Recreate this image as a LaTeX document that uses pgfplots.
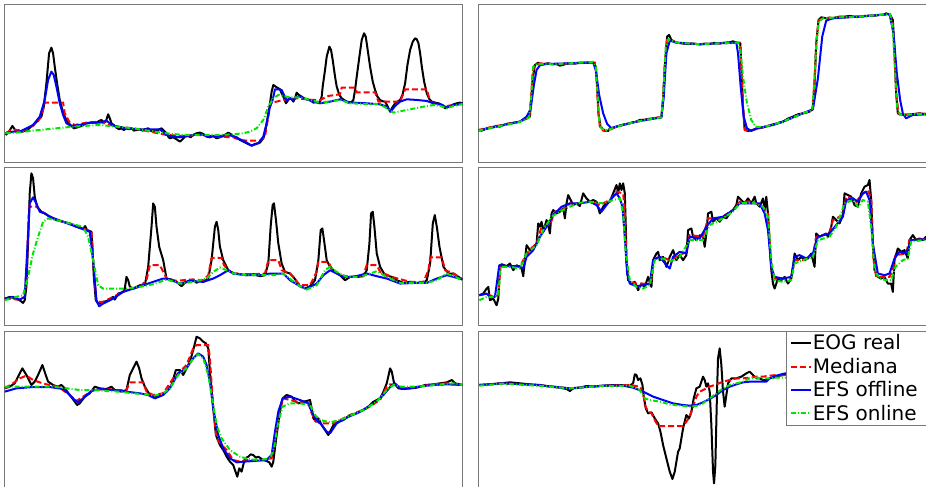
\documentclass[border=0pt]{standalone}
\usepackage{pgfplots}
\pgfplotsset{compat=1.18}
\usepackage{fontspec}
\setmainfont{DejaVu Sans}

\definecolor{framegray}{rgb}{0.47,0.47,0.47}
\definecolor{ongreen}{rgb}{0,0.9,0}

\pgfplotsset{
  eogpanel/.style={
    width=228.9pt, height=79pt, scale only axis,
    axis line style={framegray, line width=0.5pt},
    xtick=\empty, ytick=\empty,
    y dir=reverse,
    clip=true,
  },
  eog/.style={black, line width=1pt, line join=round},
  med/.style={red, line width=1pt, dash pattern=on 3pt off 1.5pt},
  off/.style={blue, line width=1pt, line join=round},
  onl/.style={ongreen, line width=1pt, dash pattern=on 2.5pt off 1pt on 0.5pt off 1pt},
}

\begin{document}
\begin{tikzpicture}

% ---------------- panel 1 ----------------
\begin{axis}[eogpanel, at={(2.35pt,241.35pt)}, anchor=north west,
  xmin=15, xmax=1387, ymin=13, ymax=487]
\addplot[eog] coordinates {(18,405)(28,395)(38,378)(45,388)(50,395)(70,395)(85,388)(100,375)(115,362)(125,350)(132,320)(140,250)(148,160)(155,143)(160,160)(165,200)(172,250)(180,300)(188,330)(195,350)(205,368)(215,378)(222,385)(230,383)(245,378)(260,370)(275,368)(290,368)(300,362)(305,360)(312,368)(318,365)(325,343)(330,355)(335,370)(345,378)(350,383)(358,388)(365,385)(372,390)(380,385)(388,388)(395,385)(402,392)(410,390)(420,388)(428,392)(435,388)(445,385)(452,392)(460,395)(470,392)(478,388)(485,385)(492,392)(500,400)(505,410)(510,415)(520,412)(530,418)(540,425)(548,418)(555,410)(565,408)(572,412)(580,405)(590,400)(600,398)(610,402)(620,410)(630,412)(640,408)(650,415)(660,412)(670,408)(685,398)(692,402)(700,410)(710,412)(720,420)(730,425)(740,430)(755,437)(765,432)(780,428)(790,415)(795,400)(800,370)(805,340)(810,310)(815,275)(820,255)(830,262)(840,268)(845,280)(850,290)(858,310)(865,300)(870,295)(875,298)(880,305)(885,295)(890,278)(897,285)(905,290)(912,295)(920,298)(930,300)(940,308)(950,306)(960,305)(965,290)(968,260)(975,210)(980,170)(988,140)(993,150)(998,180)(1005,230)(1010,260)(1018,285)(1025,295)(1035,302)(1045,308)(1055,306)(1060,300)(1065,270)(1070,230)(1078,170)(1085,120)(1092,100)(1097,110)(1100,130)(1105,165)(1110,200)(1118,245)(1125,270)(1132,290)(1140,300)(1148,304)(1155,305)(1162,318)(1170,335)(1177,322)(1185,310)(1192,305)(1200,300)(1207,285)(1215,250)(1222,195)(1230,150)(1238,125)(1245,115)(1250,118)(1255,130)(1260,160)(1265,200)(1272,245)(1280,280)(1288,298)(1295,305)(1305,308)(1315,310)(1325,315)(1335,325)(1342,320)(1350,318)(1360,313)(1370,310)(1380,308)(1387,310)};
\addplot[med] coordinates {(18,400)(30,392)(50,390)(70,392)(100,378)(120,355)(130,330)(135,308)(190,308)(195,340)(210,368)(225,375)(260,368)(300,365)(330,375)(350,380)(400,385)(450,395)(500,405)(550,408)(600,405)(650,410)(700,412)(720,420)(740,422)(780,422)(795,410)(800,380)(810,320)(815,308)(830,305)(850,300)(870,298)(890,295)(920,298)(940,300)(960,300)(985,288)(1020,283)(1025,263)(1065,263)(1070,277)(1125,277)(1135,305)(1200,305)(1215,268)(1280,268)(1290,305)(1310,312)(1340,318)(1387,312)};
\addplot[off] coordinates {(18,400)(40,395)(60,395)(80,385)(100,375)(120,350)(135,300)(145,240)(155,215)(162,225)(170,260)(180,310)(190,345)(200,370)(215,378)(240,375)(270,368)(300,368)(320,362)(330,370)(345,378)(380,385)(420,388)(450,388)(480,388)(500,405)(520,410)(540,412)(560,408)(580,405)(600,402)(620,408)(650,410)(680,405)(700,408)(720,418)(740,428)(755,437)(775,430)(790,410)(800,370)(810,320)(818,300)(825,268)(835,268)(845,270)(852,285)(860,302)(870,295)(880,300)(890,290)(900,290)(920,298)(940,305)(960,310)(990,305)(1020,298)(1040,305)(1060,308)(1100,310)(1140,313)(1160,320)(1172,335)(1185,318)(1200,305)(1220,298)(1250,300)(1280,303)(1300,310)(1320,312)(1340,323)(1360,315)(1387,310)};
\addplot[onl] coordinates {(18,400)(60,397)(100,392)(150,387)(200,382)(250,378)(300,375)(350,380)(400,385)(450,393)(500,400)(550,405)(600,405)(650,405)(700,403)(730,400)(750,395)(770,385)(790,360)(805,320)(820,295)(835,285)(850,288)(870,292)(900,292)(930,300)(960,308)(1000,303)(1020,300)(1050,310)(1100,312)(1140,313)(1160,325)(1180,338)(1220,330)(1260,322)(1300,315)(1320,318)(1340,325)(1360,318)(1387,312)};
\end{axis}

% ---------------- panel 2 ----------------
\begin{axis}[eogpanel, at={(239.15pt,241.35pt)}, anchor=north west,
  xmin=25, xmax=1400, ymin=13, ymax=487]
\addplot[eog] coordinates {(25,390)(35,392)(50,385)(65,382)(80,378)(90,380)(100,375)(110,372)(120,370)(135,368)(150,365)(160,360)(170,355)(180,350)(183,310)(188,240)(195,195)(205,188)(212,192)(220,192)(235,190)(250,193)(260,192)(270,197)(285,193)(300,190)(315,191)(330,188)(345,189)(355,187)(370,186)(378,200)(382,260)(386,340)(392,380)(405,393)(415,393)(420,385)(430,383)(440,380)(455,375)(470,372)(485,368)(500,365)(510,360)(520,360)(535,357)(550,355)(565,354)(575,352)(580,300)(585,200)(592,110)(598,105)(605,120)(620,128)(635,130)(650,132)(670,131)(690,133)(705,131)(720,132)(735,129)(750,130)(765,128)(780,127)(790,124)(800,128)(812,130)(815,200)(820,320)(825,390)(835,393)(850,390)(865,385)(880,382)(895,378)(910,375)(925,370)(940,365)(955,356)(970,350)(985,343)(1000,340)(1010,338)(1020,335)(1030,325)(1035,250)(1040,130)(1047,60)(1055,52)(1070,55)(1080,53)(1090,55)(1100,52)(1110,50)(1125,50)(1140,48)(1155,50)(1170,50)(1185,48)(1200,47)(1215,47)(1230,45)(1240,45)(1250,40)(1262,45)(1270,60)(1275,150)(1280,280)(1285,340)(1295,345)(1310,344)(1320,343)(1335,342)(1350,340)(1365,342)(1380,343)(1400,342)};
\addplot[med] coordinates {(25,390)(80,378)(120,370)(150,365)(178,352)(183,300)(188,220)(193,195)(210,190)(250,193)(300,190)(355,187)(375,188)(380,230)(385,330)(390,380)(400,392)(415,392)(440,380)(500,365)(550,355)(575,350)(580,290)(586,180)(592,120)(600,118)(620,128)(690,133)(750,130)(810,128)(815,200)(820,320)(826,390)(840,392)(880,382)(940,365)(1000,340)(1028,330)(1035,240)(1040,130)(1047,62)(1060,55)(1110,52)(1170,50)(1230,45)(1262,45)(1270,70)(1275,160)(1280,280)(1287,340)(1300,345)(1350,341)(1400,342)};
\addplot[off] coordinates {(25,392)(80,380)(150,365)(170,350)(182,328)(192,255)(200,210)(210,196)(230,192)(300,190)(370,188)(378,210)(388,285)(400,340)(412,372)(425,385)(440,380)(500,365)(575,352)(582,290)(590,160)(600,122)(620,128)(690,133)(750,130)(800,128)(805,160)(813,260)(822,350)(832,385)(845,393)(860,385)(880,382)(940,365)(1000,340)(1030,328)(1045,235)(1058,110)(1070,62)(1090,55)(1170,50)(1230,45)(1260,42)(1272,100)(1282,220)(1292,300)(1300,340)(1310,355)(1330,345)(1400,342)};
\addplot[onl] coordinates {(25,392)(80,380)(150,366)(178,352)(184,290)(190,200)(200,192)(250,193)(300,190)(370,186)(378,200)(383,280)(388,360)(395,385)(410,392)(440,380)(500,365)(575,352)(580,290)(588,140)(596,118)(620,128)(690,133)(750,130)(805,128)(812,150)(820,230)(832,310)(845,360)(858,380)(880,382)(940,365)(1000,340)(1028,330)(1034,250)(1040,140)(1047,65)(1060,55)(1110,52)(1170,50)(1230,45)(1262,42)(1270,90)(1276,200)(1283,320)(1292,345)(1320,343)(1400,342)};
\end{axis}

% ---------------- panel 3 ----------------
\begin{axis}[eogpanel, at={(2.35pt,159.85pt)}, anchor=north west,
  xmin=15, xmax=1387, ymin=22, ymax=495]
\addplot[eog] coordinates {(15,415)(30,410)(45,415)(60,420)(70,428)(75,420)(80,380)(85,250)(90,100)(95,40)(100,55)(105,110)(112,140)(125,155)(135,160)(150,170)(170,180)(190,185)(210,190)(230,200)(250,205)(256,198)(262,210)(275,215)(278,260)(282,350)(288,420)(295,430)(310,425)(330,420)(340,410)(345,418)(355,400)(370,395)(375,385)(380,350)(385,360)(390,380)(400,385)(420,375)(435,375)(445,320)(455,200)(460,130)(465,140)(470,200)(478,260)(490,300)(500,355)(515,358)(530,365)(545,378)(555,368)(570,360)(580,358)(590,368)(600,360)(610,365)(625,355)(635,300)(645,200)(650,185)(655,210)(660,260)(670,300)(685,330)(700,340)(720,342)(740,345)(760,342)(780,348)(795,345)(805,310)(812,200)(818,135)(822,130)(828,180)(835,250)(845,310)(855,335)(870,340)(880,350)(900,378)(915,385)(930,378)(945,360)(955,300)(962,210)(967,205)(972,240)(980,300)(990,320)(1005,335)(1020,345)(1035,360)(1050,350)(1075,350)(1090,348)(1100,330)(1108,250)(1113,160)(1118,155)(1123,200)(1130,280)(1140,320)(1155,345)(1175,350)(1190,360)(1210,368)(1230,365)(1250,368)(1270,368)(1280,360)(1290,310)(1298,190)(1304,165)(1310,200)(1318,260)(1330,320)(1345,340)(1360,340)(1375,350)(1387,358)};
\addplot[med] coordinates {(15,415)(60,418)(75,410)(82,300)(88,140)(110,140)(120,150)(135,160)(170,180)(210,190)(250,205)(275,215)(282,330)(290,425)(310,425)(340,410)(380,390)(420,380)(440,360)(450,315)(480,315)(490,335)(500,355)(530,362)(570,358)(610,360)(625,345)(635,293)(665,293)(672,315)(690,335)(720,342)(760,342)(795,340)(805,300)(835,300)(845,330)(870,340)(900,375)(930,375)(950,335)(955,305)(985,305)(995,325)(1020,345)(1050,350)(1090,345)(1100,315)(1130,315)(1140,335)(1175,350)(1230,365)(1270,365)(1285,330)(1290,292)(1325,292)(1335,330)(1360,340)(1387,358)};
\addplot[off] coordinates {(15,415)(40,410)(60,418)(75,410)(82,280)(90,130)(100,112)(110,130)(120,155)(135,160)(150,170)(190,185)(230,200)(270,215)(280,300)(290,420)(298,438)(310,430)(340,415)(370,395)(400,385)(430,375)(460,365)(490,355)(510,358)(540,370)(570,362)(610,365)(640,355)(660,345)(685,330)(700,340)(740,345)(780,345)(810,340)(850,340)(870,360)(900,378)(920,385)(950,370)(970,345)(990,330)(1010,340)(1030,350)(1060,350)(1100,340)(1130,348)(1160,355)(1200,370)(1250,368)(1280,368)(1310,355)(1340,345)(1360,350)(1387,358)};
\addplot[onl] coordinates {(15,420)(50,410)(70,405)(85,350)(100,280)(115,230)(130,185)(145,175)(170,180)(210,190)(250,200)(265,230)(280,300)(295,375)(310,385)(350,385)(380,385)(420,380)(460,372)(500,358)(540,370)(580,365)(620,355)(640,335)(660,322)(680,330)(700,340)(740,345)(780,345)(820,345)(850,340)(875,360)(900,378)(920,388)(950,375)(975,330)(990,320)(1010,335)(1040,350)(1080,350)(1110,340)(1130,333)(1160,350)(1200,368)(1250,368)(1280,368)(1310,360)(1340,340)(1365,350)(1387,360)};
\end{axis}

% ---------------- panel 4 ----------------
\begin{axis}[eogpanel, at={(239.15pt,159.85pt)}, anchor=north west,
  xmin=25, xmax=1400, ymin=22, ymax=495]
\addplot[eog] coordinates {(28,405)(40,400)(50,385)(55,380)(60,420)(70,415)(80,435)(85,415)(90,320)(95,312)(110,318)(120,310)(130,330)(140,315)(155,325)(160,348)(165,300)(170,255)(180,270)(190,265)(200,250)(205,190)(210,200)(215,185)(220,215)(230,180)(235,195)(240,220)(245,160)(250,150)(260,160)(270,155)(280,145)(285,175)(290,130)(295,105)(300,115)(310,135)(320,130)(330,138)(340,100)(350,115)(360,125)(370,120)(380,125)(390,160)(400,140)(410,130)(420,125)(430,100)(440,75)(445,100)(450,70)(455,90)(460,70)(465,100)(468,200)(470,300)(475,360)(485,370)(495,365)(505,390)(515,370)(525,380)(535,350)(545,380)(550,300)(560,280)(565,275)(570,300)(580,290)(590,320)(600,290)(610,270)(620,300)(630,285)(640,300)(650,285)(655,210)(665,205)(670,230)(680,240)(690,225)(700,230)(705,260)(710,220)(715,160)(725,155)(730,185)(740,175)(750,185)(760,170)(770,175)(780,160)(790,150)(800,135)(805,110)(815,120)(825,130)(835,115)(845,130)(855,110)(860,130)(870,140)(880,115)(885,150)(890,110)(895,160)(900,250)(905,330)(910,370)(915,385)(925,355)(935,360)(945,350)(955,370)(965,355)(970,320)(975,280)(985,300)(995,290)(1005,300)(1015,295)(1025,280)(1035,320)(1040,220)(1050,230)(1060,225)(1070,220)(1075,230)(1085,200)(1090,170)(1100,180)(1110,190)(1120,165)(1125,100)(1135,105)(1145,110)(1155,135)(1165,140)(1175,100)(1185,80)(1195,75)(1200,60)(1205,120)(1210,250)(1215,330)(1225,350)(1235,355)(1245,350)(1255,370)(1265,370)(1270,395)(1275,300)(1285,265)(1295,275)(1305,270)(1315,295)(1320,240)(1330,225)(1340,240)(1350,235)(1360,240)(1370,230)(1400,230)};
\addplot[med] coordinates {(28,405)(50,400)(70,410)(85,405)(92,318)(120,318)(150,320)(165,290)(180,268)(200,250)(215,200)(240,195)(255,155)(280,148)(300,130)(330,130)(360,125)(390,135)(420,120)(440,95)(460,100)(465,150)(470,300)(478,365)(500,370)(530,370)(545,360)(552,295)(575,290)(600,300)(630,285)(650,275)(660,225)(700,230)(715,175)(750,175)(790,150)(810,125)(850,125)(880,140)(895,160)(905,320)(915,355)(950,355)(965,350)(975,300)(1000,300)(1030,285)(1040,230)(1080,220)(1090,180)(1120,165)(1130,110)(1150,115)(1160,125)(1175,105)(1195,90)(1205,115)(1212,300)(1220,350)(1260,350)(1270,330)(1278,285)(1310,280)(1320,240)(1350,238)(1400,232)};
\addplot[off] coordinates {(28,405)(50,400)(60,410)(75,410)(88,315)(120,318)(150,318)(160,325)(170,290)(190,270)(210,230)(230,200)(250,165)(275,140)(300,130)(330,130)(360,125)(380,135)(395,155)(410,135)(430,110)(440,100)(450,115)(458,140)(465,230)(472,340)(480,370)(500,378)(520,375)(540,370)(550,300)(570,290)(590,315)(600,325)(610,290)(630,275)(650,280)(660,230)(690,235)(710,200)(730,175)(760,170)(790,150)(810,130)(840,130)(870,130)(885,160)(895,210)(905,320)(915,350)(940,355)(965,350)(975,290)(990,285)(1010,295)(1030,280)(1045,230)(1080,220)(1100,195)(1120,170)(1130,120)(1150,115)(1165,125)(1180,100)(1190,95)(1200,120)(1210,250)(1225,340)(1245,345)(1260,340)(1275,295)(1290,275)(1310,280)(1325,240)(1360,238)(1400,235)};
\addplot[onl] coordinates {(28,420)(50,410)(70,410)(85,405)(92,320)(120,320)(150,325)(170,280)(200,255)(220,210)(245,170)(270,155)(300,140)(330,128)(360,125)(400,130)(430,120)(450,115)(460,160)(468,280)(480,360)(500,380)(520,385)(540,375)(555,300)(580,295)(600,305)(630,290)(660,240)(700,240)(720,195)(750,180)(790,155)(810,130)(850,128)(880,140)(895,170)(905,300)(915,360)(940,365)(965,360)(975,310)(1000,300)(1030,290)(1045,240)(1080,230)(1100,200)(1125,130)(1150,120)(1165,140)(1180,120)(1195,125)(1205,200)(1215,330)(1230,355)(1250,360)(1265,360)(1278,320)(1300,300)(1315,295)(1325,245)(1360,240)(1400,235)};
\end{axis}

% ---------------- panel 5 ----------------
\begin{axis}[eogpanel, at={(2.35pt,78pt)}, anchor=north west,
  xmin=15, xmax=1387, ymin=18, ymax=492]
\addplot[eog] coordinates {(15,190)(30,185)(45,175)(55,155)(68,130)(80,150)(95,180)(105,170)(115,150)(128,120)(138,150)(145,170)(160,180)(175,185)(185,180)(195,190)(210,210)(225,230)(232,240)(240,235)(255,215)(270,205)(285,185)(300,190)(320,192)(335,185)(345,195)(365,200)(380,195)(390,150)(400,130)(410,110)(418,130)(425,160)(435,185)(450,210)(465,215)(480,210)(500,200)(515,180)(528,135)(540,135)(550,150)(560,130)(570,110)(580,75)(590,35)(600,40)(610,50)(618,55)(625,70)(630,140)(640,250)(648,330)(660,360)(670,375)(680,395)(690,410)(700,420)(705,435)(712,455)(718,430)(725,440)(735,400)(745,395)(752,388)(760,390)(768,398)(775,395)(790,405)(800,408)(808,412)(815,425)(820,410)(830,330)(840,260)(848,220)(860,210)(875,215)(885,228)(895,235)(910,230)(920,228)(930,225)(935,250)(940,280)(948,290)(955,280)(965,300)(975,315)(985,330)(990,320)(1000,300)(1015,290)(1030,285)(1050,270)(1070,265)(1090,255)(1105,245)(1120,230)(1140,220)(1150,200)(1160,175)(1170,130)(1175,140)(1182,175)(1195,190)(1210,192)(1230,190)(1250,188)(1275,180)(1300,178)(1320,175)(1340,172)(1355,165)(1365,175)(1387,180)};
\addplot[med] coordinates {(15,190)(40,175)(60,160)(80,152)(100,165)(120,172)(140,178)(175,185)(210,210)(230,228)(250,215)(280,195)(320,192)(350,195)(380,195)(390,172)(430,172)(440,200)(460,210)(490,205)(520,160)(540,140)(560,120)(580,70)(590,60)(625,60)(630,100)(640,250)(650,340)(665,360)(680,375)(700,405)(720,410)(740,405)(790,405)(815,400)(825,340)(835,270)(850,220)(890,230)(925,232)(935,265)(945,285)(960,295)(1000,295)(1010,290)(1050,270)(1100,250)(1140,225)(1160,185)(1170,178)(1185,180)(1210,190)(1250,186)(1300,178)(1340,175)(1387,180)};
\addplot[off] coordinates {(15,200)(50,190)(100,186)(150,186)(190,192)(210,210)(225,225)(235,232)(250,220)(275,198)(300,192)(340,195)(380,200)(420,205)(445,210)(465,220)(490,210)(510,190)(535,145)(560,130)(580,100)(595,85)(610,95)(620,120)(630,170)(640,250)(655,330)(670,370)(690,400)(710,412)(730,410)(760,408)(800,405)(815,390)(825,320)(835,260)(848,220)(870,215)(900,225)(925,235)(935,260)(950,285)(965,300)(980,320)(990,325)(1000,310)(1010,295)(1040,278)(1080,260)(1120,235)(1150,210)(1175,180)(1185,175)(1200,190)(1230,190)(1270,183)(1300,180)(1340,178)(1387,180)};
\addplot[onl] coordinates {(15,185)(40,185)(80,185)(120,185)(160,185)(200,190)(240,195)(280,195)(320,198)(360,200)(400,205)(440,208)(465,212)(490,205)(510,190)(535,150)(560,130)(580,100)(595,88)(610,100)(625,150)(640,240)(650,300)(665,340)(690,375)(720,395)(750,403)(780,405)(810,400)(822,370)(835,290)(848,245)(870,235)(900,235)(930,240)(945,270)(960,285)(990,292)(1020,285)(1050,272)(1090,255)(1130,230)(1160,195)(1180,180)(1200,185)(1240,185)(1280,183)(1320,178)(1360,175)(1387,180)};
\end{axis}

% ---------------- panel 6 (with legend) ----------------
\begin{axis}[eogpanel, at={(239.15pt,78pt)}, anchor=north west,
  xmin=25, xmax=1400, ymin=18, ymax=492,
  legend cell align=left,
  legend image code/.code={\draw[#1] (0pt,0pt) -- (10pt,0pt);},
  legend style={at={(0.6715,1)}, anchor=north west,
    draw=framegray, line width=0.5pt, fill=white,
    inner xsep=2pt, inner ysep=0pt, row sep=0pt, column sep=0pt,
    font=\fontsize{10}{12}\selectfont,
    nodes={inner xsep=0.3pt, inner ysep=0pt, text height=9.2pt, text depth=2.5pt}},
]
\addplot[eog] coordinates {(28,180)(60,178)(90,175)(120,172)(150,175)(180,178)(210,180)(240,185)(270,188)(290,192)(300,198)(310,190)(330,188)(350,183)(370,185)(400,182)(430,180)(460,180)(480,182)(490,175)(495,148)(500,150)(505,165)(512,160)(518,180)(522,215)(528,250)(535,265)(545,262)(555,280)(565,295)(572,320)(580,360)(590,400)(600,440)(608,462)(615,440)(625,380)(630,370)(640,310)(650,270)(658,280)(665,260)(672,220)(680,190)(690,185)(700,155)(705,165)(710,185)(715,175)(720,200)(725,300)(730,440)(733,475)(737,420)(742,200)(745,100)(750,70)(755,120)(760,200)(765,245)(770,210)(775,175)(785,160)(800,160)(815,155)(830,145)(840,140)(850,150)(860,160)(870,160)(880,165)(890,165)(900,160)(910,158)(930,152)(950,148)(1000,150)(1100,148)(1200,150)(1300,148)(1400,150)};
\addlegendentry{EOG real}
\addplot[med] coordinates {(28,180)(100,175)(200,180)(300,190)(400,182)(480,180)(510,185)(520,200)(525,240)(535,260)(545,265)(555,285)(565,303)(640,303)(650,290)(660,275)(670,245)(680,215)(690,200)(700,195)(720,185)(740,178)(760,170)(780,165)(800,160)(820,160)(840,158)(860,155)(880,155)(900,152)(920,150)(950,150)(1100,150)(1250,150)(1400,150)};
\addlegendentry{Mediana}
\addplot[off] coordinates {(28,180)(100,175)(200,180)(300,190)(400,182)(460,182)(490,188)(520,200)(550,215)(580,225)(610,235)(640,240)(660,242)(680,240)(700,232)(720,222)(740,210)(760,195)(780,185)(800,178)(820,172)(840,170)(860,170)(880,170)(890,170)(900,160)(920,152)(947,145)(1000,140)(1100,142)(1250,145)(1400,148)};
\addlegendentry{EFS offline\hspace*{5pt}}
\addplot[onl] coordinates {(28,182)(100,176)(200,182)(300,190)(400,183)(480,182)(510,195)(525,220)(540,225)(570,230)(600,238)(630,242)(660,245)(680,243)(700,235)(720,220)(740,205)(760,190)(780,180)(800,175)(820,170)(840,160)(860,158)(880,160)(900,160)(920,158)(947,158)(1100,156)(1250,155)(1400,155)};
\addlegendentry{EFS online}
\end{axis}

\pgfresetboundingbox
\useasboundingbox (0pt,0pt) rectangle (463pt,243.5pt);
\end{tikzpicture}
\end{document}
